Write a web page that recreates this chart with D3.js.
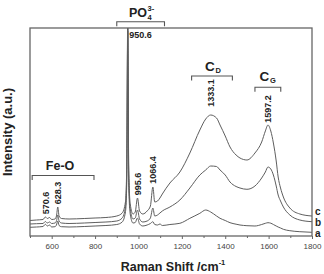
<!DOCTYPE html>
<html>
<head>
<meta charset="utf-8">
<script src="https://cdn.jsdelivr.net/npm/d3@7"></script>
<style>
  html, body { margin: 0; padding: 0; background: #fff; }
  svg { display: block; font-family: "Liberation Sans", Arial, sans-serif; }
</style>
</head>
<body>
<div id="raman-chart"></div>
<script>
// Raman shift sampling (cm-1), shared by the three spectra
const ramanShift = [500, 530, 560, 571, 580, 590, 600, 615, 622, 628, 634, 645, 680, 750, 800, 850, 900, 925, 940, 946,
  950.6, 955, 962, 975, 985, 995.6, 1005, 1020, 1040, 1055, 1066.4, 1075, 1088, 1099, 1110, 1145, 1191, 1237, 1283, 1310,
  1333, 1360, 1376, 1400, 1422, 1450, 1468, 1500, 1537, 1568, 1585, 1597, 1610, 1622, 1635, 1644, 1655, 1668, 1698, 1744, 1800];

// Intensities (a.u.)
const intensityA = [8.7, 9, 9.5, 11.7, 10, 11, 9, 9.3, 11, 15, 10.5, 9.3, 9, 9.5, 10, 10.5, 11.5, 14, 24, 52,
  205, 52, 22, 13, 13.5, 18, 12, 10, 11, 12.5, 14.3, 11.5, 11, 12, 10.5, 11.5, 12.7, 17.7, 22.7, 26,
  24, 20, 17.7, 15.5, 13.3, 11.8, 11, 10.3, 10, 11.5, 12.7, 13.3, 12.8, 11.5, 10, 9, 8, 6.7, 5.3, 4.3, 3.7];

const intensityB = [12, 12.3, 12.5, 14.5, 13, 14, 12.5, 13, 15, 21, 15, 13, 12.5, 13, 13.5, 14, 15, 18, 29, 62,
  212, 62, 27, 17, 18, 26, 17, 14, 15, 18, 28, 20, 21, 23, 25, 29, 36, 48, 61, 66,
  70, 69.5, 66, 61, 54, 49.5, 48, 46.7, 50, 58, 64, 69, 67, 61, 50, 41, 35, 29, 21, 16, 14.3];

const intensityC = [15.5, 16, 16.5, 19, 17.5, 18.5, 16.5, 17, 20, 29, 20, 17.5, 17, 17.5, 18, 18.5, 20, 23, 34, 70,
  220, 70, 32, 22, 24, 38, 25, 22, 25, 30, 49, 34, 35, 38, 42, 53, 64, 83, 106, 117,
  121, 118, 111, 100, 89, 81, 78, 76, 83, 94, 105, 111, 105, 93, 75, 59, 48, 39, 28, 22, 20];

const seriesNames = ['a', 'b', 'c'];

const xTicks = [600, 800, 1000, 1200, 1400, 1600, 1800];
const xMinorTicks = [500, 700, 900, 1100, 1300, 1500, 1700];

// Peak labels (rotated, except 950.6)
const peakLabels = ['570.6', '628.3', '995.6', '1066.4', '1333.1', '1597.2'];
const peakLabelY = [203, 193, 184, 170, 93, 109];

// Band groups drawn as brackets
const bandNames = ['Fe-O', 'PO', 'C', 'C'];
const bandFrom = [510, 900, 1245, 1537];
const bandTo = [795, 1120, 1433, 1656];

class RamanChart {
  constructor() {
    this.width = 324;
    this.height = 274;
    this.plot = { left: 30, right: 312, top: 28, bottom: 236 };
    this.svg = null;
    this.x = null;
    this.y = null;
  }

  createSVG() {
    this.svg = d3.select('#raman-chart')
      .append('svg')
      .attr('width', this.width)
      .attr('height', this.height);

    this.x = d3.scaleLinear().domain([500, 1800]).range([this.plot.left, this.plot.right]);
    this.y = d3.scaleLinear().domain([0, 208]).range([this.plot.bottom, this.plot.top]);

    this.svg.append('clipPath')
      .attr('id', 'plot-clip')
      .append('rect')
      .attr('x', this.plot.left)
      .attr('y', this.plot.top)
      .attr('width', this.plot.right - this.plot.left)
      .attr('height', this.plot.bottom - this.plot.top);
  }

  // Spectra a, b, c
  createLines() {
    const series = [intensityA, intensityB, intensityC];
    const line = d3.line()
      .x((d, i) => this.x(ramanShift[i]))
      .y(d => this.y(d))
      .curve(d3.curveMonotoneX);

    this.svg.append('g')
      .attr('clip-path', 'url(#plot-clip)')
      .selectAll('.spectrum')
      .data(series)
      .enter()
      .append('path')
      .attr('class', 'spectrum')
      .attr('d', d => line(d))
      .attr('fill', 'none')
      .attr('stroke', '#5e5e5e')
      .attr('stroke-width', 1);

    // series letters at the right edge, stacked so they do not collide
    const letterY = [236.5, 225.5, 214.5];
    this.svg.selectAll('.series-label')
      .data(seriesNames)
      .enter()
      .append('text')
      .attr('class', 'series-label')
      .attr('x', this.plot.right + 3)
      .attr('y', (d, i) => letterY[i])
      .attr('font-size', '10px')
      .attr('font-weight', 'bold')
      .attr('fill', '#222')
      .text(d => d);
  }

  createAxes() {
    const p = this.plot;
    const axisColor = '#666';

    this.svg.append('rect')
      .attr('x', p.left)
      .attr('y', p.top)
      .attr('width', p.right - p.left)
      .attr('height', p.bottom - p.top)
      .attr('fill', 'none')
      .attr('stroke', axisColor)
      .attr('stroke-width', 1.3);

    const xAxis = this.svg.append('g')
      .attr('transform', `translate(0, ${p.bottom})`)
      .call(d3.axisBottom(this.x).tickValues(xTicks).tickFormat(d3.format('d')).tickSize(3).tickSizeOuter(0));
    xAxis.select('.domain').remove();
    xAxis.selectAll('line').attr('stroke', axisColor);
    xAxis.selectAll('text')
      .attr('font-size', '8px')
      .attr('font-family', '"Liberation Sans", Arial, sans-serif')
      .attr('fill', '#444')
      .attr('dy', '0.85em');

    const minor = this.svg.append('g')
      .attr('transform', `translate(0, ${p.bottom})`)
      .call(d3.axisBottom(this.x).tickValues(xMinorTicks).tickSize(2).tickFormat(''));
    minor.select('.domain').remove();
    minor.selectAll('line').attr('stroke', axisColor);

    // x title
    const xTitle = this.svg.append('text')
      .attr('x', (p.left + p.right) / 2 + 2)
      .attr('y', 271)
      .attr('text-anchor', 'middle')
      .attr('font-size', '12.5px')
      .attr('font-weight', 'bold')
      .attr('fill', '#222');
    xTitle.append('tspan').text('Raman Shift /cm');
    xTitle.append('tspan').attr('font-size', '7.5px').attr('dy', -6).text('-1');

    // y title
    this.svg.append('text')
      .attr('transform', `translate(11.5, ${(p.top + p.bottom) / 2}) rotate(-90)`)
      .attr('text-anchor', 'middle')
      .attr('font-size', '13px')
      .attr('font-weight', 'bold')
      .attr('fill', '#222')
      .text('Intensity (a.u.)');
  }

  // Brackets, band names and peak positions
  createAnnotations() {
    const bracketY = [175.5, 21.7, 76, 87.3];
    const self = this;

    this.svg.selectAll('.bracket')
      .data(bandNames)
      .enter()
      .append('path')
      .attr('class', 'bracket')
      .attr('d', (d, i) => {
        const x1 = this.x(bandFrom[i]);
        const x2 = this.x(bandTo[i]);
        const y = bracketY[i];
        return `M${x1},${y + 4.5}V${y}H${x2}V${y + 4.5}`;
      })
      .attr('fill', 'none')
      .attr('stroke', '#555')
      .attr('stroke-width', 1.1);

    // Fe-O
    this.svg.append('text')
      .attr('x', this.x((bandFrom[0] + bandTo[0]) / 2) - 3)
      .attr('y', 170)
      .attr('text-anchor', 'middle')
      .attr('font-size', '12.5px')
      .attr('font-weight', 'bold')
      .attr('fill', '#222')
      .text(bandNames[0]);

    // PO4 3-
    this.svg.append('text')
      .attr('x', 129)
      .attr('y', 17)
      .attr('font-size', '12.5px')
      .attr('font-weight', 'bold')
      .attr('fill', '#222')
      .text(bandNames[1]);
    this.svg.append('text').attr('x', 147.5).attr('y', 10.5)
      .attr('font-size', '7.5px').attr('font-weight', 'bold').attr('fill', '#222').text('3-');
    this.svg.append('text').attr('x', 147.5).attr('y', 20)
      .attr('font-size', '7.5px').attr('font-weight', 'bold').attr('fill', '#222').text('4');

    // C_D and C_G
    const cPos = [{ x: 205, y: 71, sub: 'D' }, { x: 259.5, y: 81, sub: 'G' }];
    cPos.forEach((c, i) => {
      self.svg.append('text').attr('x', c.x).attr('y', c.y)
        .attr('font-size', '13.5px').attr('font-weight', 'bold').attr('fill', '#222').text(bandNames[2 + i]);
      self.svg.append('text').attr('x', c.x + 10.5).attr('y', c.y + 2)
        .attr('font-size', '7.5px').attr('font-weight', 'bold').attr('fill', '#222').text(c.sub);
    });

    // 950.6 horizontal
    this.svg.append('text')
      .attr('x', this.x(950.6) + 1.5)
      .attr('y', 38)
      .attr('font-size', '9px')
      .attr('font-weight', 'bold')
      .attr('fill', '#222')
      .text('950.6');

    this.svg.selectAll('.peak-label')
      .data(peakLabels)
      .enter()
      .append('text')
      .attr('class', 'peak-label')
      .attr('transform', (d, i) => `translate(${this.x(+d) + 3.3}, ${peakLabelY[i]}) rotate(-90)`)
      .attr('text-anchor', 'middle')
      .attr('font-size', '9px')
      .attr('font-weight', 'bold')
      .attr('fill', '#222')
      .text(d => d);
  }

  initialize() {
    this.createSVG();
    this.createLines();
    this.createAxes();
    this.createAnnotations();
  }
}

const ramanChart = new RamanChart();
ramanChart.initialize();
</script>
</body>
</html>
